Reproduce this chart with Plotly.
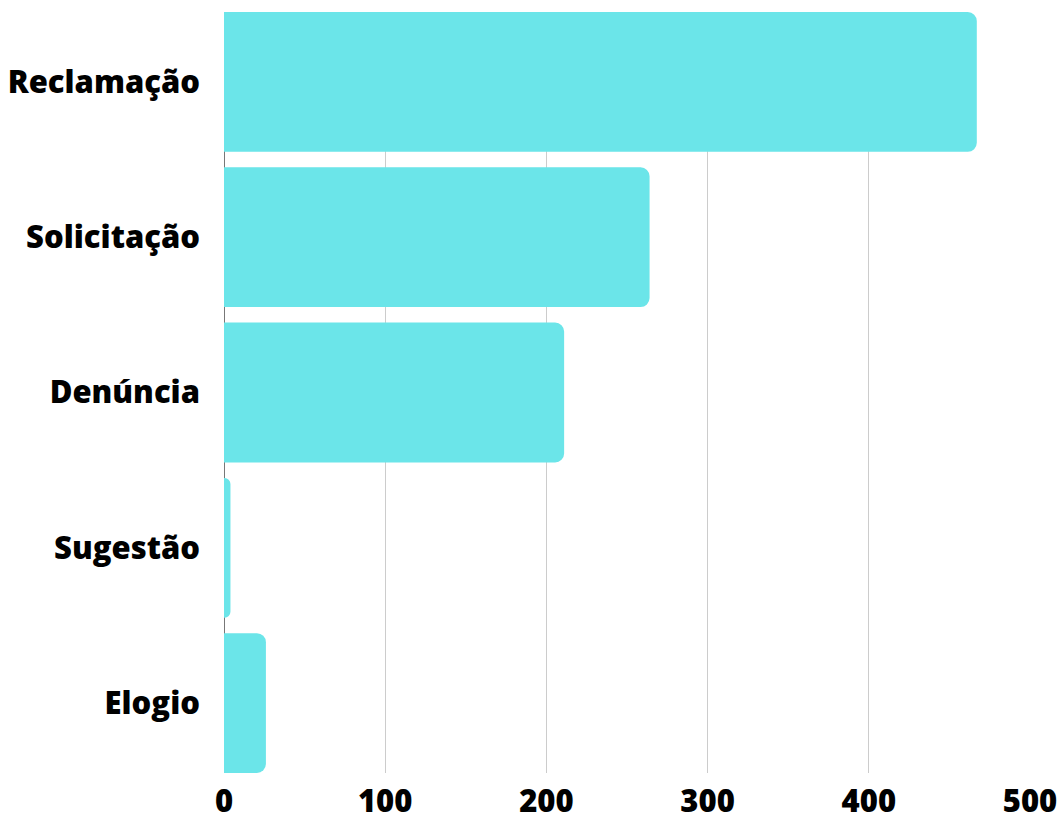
import plotly.graph_objects as go

categories = ["Reclamação", "Solicitação", "Denúncia", "Sugestão", "Elogio"]
values = [467, 264, 211, 4, 26]
x_ticks = [0, 100, 200, 300, 400, 500]

FONT = dict(family="Open Sans", size=31, color="black", weight=800)

fig = go.Figure(go.Bar(
    x=values, y=categories, orientation="h",
    marker=dict(color="#6BE5E9", line=dict(width=0)),
))
fig.update_layout(
    width=1060, height=819,
    margin=dict(l=224, r=30, t=12, b=46, autoexpand=False),
    plot_bgcolor="white", paper_bgcolor="white",
    bargap=0.1, barcornerradius=9,
    showlegend=False,
    font=FONT,
)
fig.update_xaxes(
    range=[0, 500], tickvals=x_ticks, showgrid=True, gridcolor="#cccccc", gridwidth=1,
    zeroline=True, zerolinecolor="#777777", zerolinewidth=1,
    tickfont=FONT, automargin=False,
    ticklabelstandoff=7, showline=False,
)
fig.update_yaxes(
    categoryorder="array", categoryarray=categories, range=[4.45, -0.45],
    showgrid=False, ticklabelstandoff=23, automargin=False,
    tickfont=FONT,
)
fig.write_html(
    "out.html",
    config={"displayModeBar": False},
    post_script="document.body.style.margin='0';document.body.style.overflow='hidden';",
)
